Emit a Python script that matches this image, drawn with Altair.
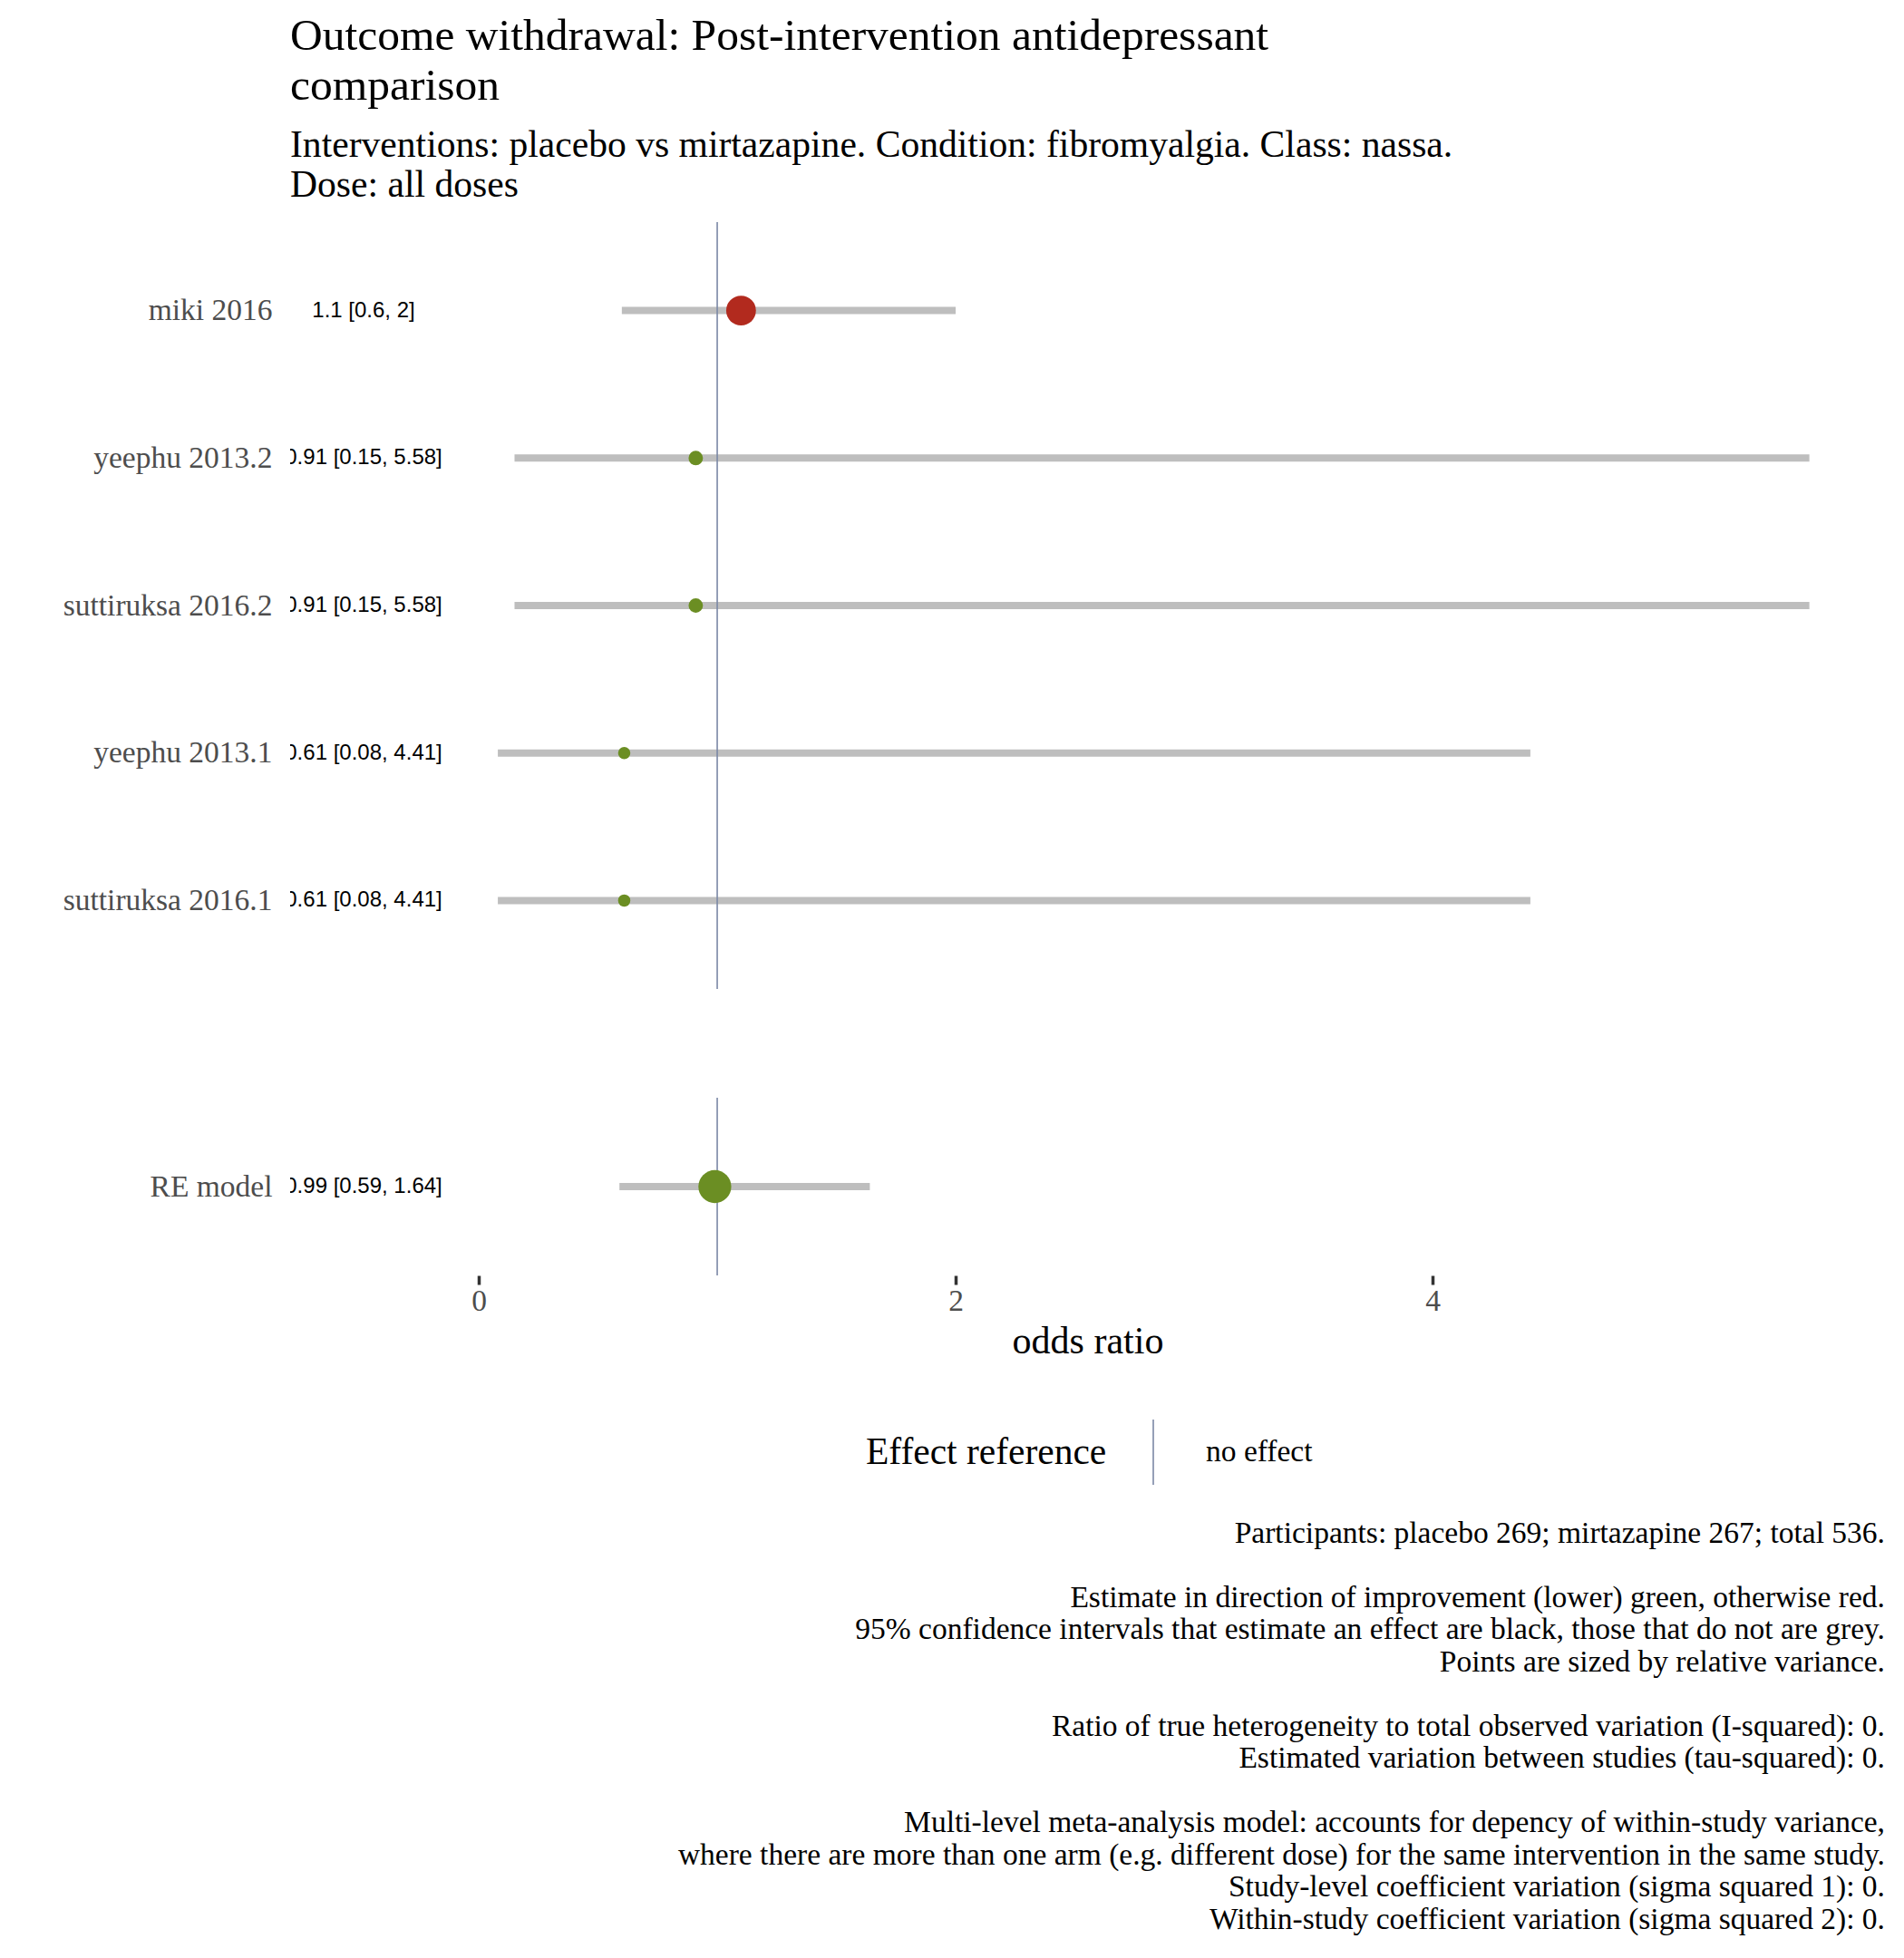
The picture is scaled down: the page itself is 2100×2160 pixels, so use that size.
import altair as alt
import pandas as pd

# ---------------- data ----------------
studies = ["miki 2016", "yeephu 2013.2", "suttiruksa 2016.2", "yeephu 2013.1", "suttiruksa 2016.1"]
estimates = [1.1, 0.91, 0.91, 0.61, 0.61]
lower = [0.6, 0.15, 0.15, 0.08, 0.08]
upper = [2.0, 5.58, 5.58, 4.41, 4.41]
rel_weight = [0.77, 0.18, 0.18, 0.13, 0.13]
effect_labels = ["1.1 [0.6, 2]", "0.91 [0.15, 5.58]", "0.91 [0.15, 5.58]",
                 "0.61 [0.08, 4.41]", "0.61 [0.08, 4.41]"]

model_name = ["RE model"]
model_estimate = [0.99]
model_lower = [0.59]
model_upper = [1.64]
model_weight = [0.94]
model_label = ["0.99 [0.59, 1.64]"]

ref_value = [1]
ref_label = ["no effect"]
x_ticks = [0, 2, 4]

title_lines = ["Outcome withdrawal: Post-intervention antidepressant", "comparison"]
subtitle_lines = ["Interventions: placebo vs mirtazapine. Condition: fibromyalgia. Class: nassa.",
                  "Dose: all doses"]
footnote_lines = [
    "Participants: placebo 269; mirtazapine 267; total 536.",
    "",
    "Estimate in direction of improvement (lower) green, otherwise red.",
    "95% confidence intervals that estimate an effect are black, those that do not are grey.",
    "Points are sized by relative variance.",
    "",
    "Ratio of true heterogeneity to total observed variation (I-squared): 0.",
    "Estimated variation between studies (tau-squared): 0.",
    "",
    "Multi-level meta-analysis model: accounts for depency of within-study variance,",
    "where there are more than one arm (e.g. different dose) for the same intervention in the same study.",
    "Study-level coefficient variation (sigma squared 1): 0.",
    "Within-study coefficient variation (sigma squared 2): 0.",
]

# ---------------- tables ----------------
def direction(vals):
    return ["worse" if v > ref_value[0] else "better" for v in vals]

study_df = pd.DataFrame({"study": studies, "estimate": estimates, "lower": lower,
                         "upper": upper, "weight": rel_weight, "label": effect_labels,
                         "direction": direction(estimates)})
model_df = pd.DataFrame({"study": model_name, "estimate": model_estimate, "lower": model_lower,
                         "upper": model_upper, "weight": model_weight, "label": model_label,
                         "direction": direction(model_estimate)})
ref_df = pd.DataFrame({"ref": ref_value, "ref_label": ref_label})
foot_df = pd.DataFrame({"row": list(range(len(footnote_lines))), "line": footnote_lines})

# ---------------- styles ----------------
SERIF = "Liberation Serif"
SANS = "Liberation Sans"
REF_COLOR = "#7B88A6"
CI_COLOR = "#BEBEBE"
PLOT_W = 1759
FOOT_STEP = 35.5
xscale = alt.Scale(domain=[-0.791, 5.897], nice=False, zero=False)
size_scale = alt.Scale(domain=[0, 1], range=[0, 1400])
color_scale = alt.Scale(domain=["better", "worse"], range=["#6B8E23", "#B22A1E"])

yaxis = alt.Axis(title=None, ticks=False, tickSize=0, domain=False, grid=False,
                 labelFont=SERIF, labelFontSize=33.5, labelColor="#4d4d4d", labelPadding=20,
                 labelLimit=1000)


def forest(df, order, height, pad, xaxis, with_legend):
    y = alt.Y("study:N", sort=order, scale=alt.Scale(type="point", padding=pad), axis=yaxis)
    base = alt.Chart(df)
    ci = base.mark_rule(strokeWidth=8, color=CI_COLOR).encode(
        x=alt.X("lower:Q", scale=xscale, axis=xaxis), x2="upper:Q", y=y)
    if with_legend:
        ref = alt.Chart(ref_df).mark_rule(strokeWidth=1.6).encode(
            x=alt.X("ref:Q", scale=xscale),
            stroke=alt.Stroke("ref_label:N", scale=alt.Scale(range=[REF_COLOR]),
                              legend=alt.Legend(
                                  title="Effect reference", orient="none",
                                  legendX=635, legendY=1320,
                                  direction="horizontal", titleOrient="left",
                                  titleFont=SERIF, titleFontSize=41.5, titleFontWeight="normal",
                                  titleColor="black", titlePadding=14, titleLimit=1000,
                                  labelFont=SERIF, labelFontSize=33.5, labelColor="black",
                                  labelOffset=21, labelLimit=1000, padding=0,
                                  symbolType="M0,-1L0,1", symbolSize=5184,
                                  symbolStrokeWidth=1.6)))
    else:
        ref = alt.Chart(ref_df).mark_rule(strokeWidth=1.6, color=REF_COLOR).encode(
            x=alt.X("ref:Q", scale=xscale))
    pts = base.mark_circle(opacity=1).encode(
        x=alt.X("estimate:Q", scale=xscale),
        y=y,
        size=alt.Size("weight:Q", scale=size_scale, legend=None),
        color=alt.Color("direction:N", scale=color_scale, legend=None))
    txt = base.mark_text(font=SANS, fontSize=24, align="center", baseline="middle",
                         color="black", clip=True).encode(
        x=alt.value(81), y=y, text="label:N")
    return alt.layer(ci, ref, pts, txt).properties(width=PLOT_W, height=height)


top = forest(study_df, studies, 846, 0.6, None, False).properties(
    title=alt.TitleParams(
        text=title_lines, subtitle=subtitle_lines, anchor="start", frame="group",
        font=SERIF, fontSize=49.5, fontWeight="normal", color="black", lineHeight=55,
        subtitleFont=SERIF, subtitleFontSize=41.6, subtitleColor="black",
        subtitleLineHeight=44, subtitlePadding=19, offset=18))

xaxis = alt.Axis(title="odds ratio", values=x_ticks, format="d", grid=False, domain=False,
                 ticks=True, tickSize=10, tickWidth=3.5, tickColor="#333333",
                 labelFont=SERIF, labelFontSize=33.5, labelColor="#4d4d4d", labelPadding=2,
                 titleFont=SERIF, titleFontSize=42, titleFontWeight="normal",
                 titleColor="black", titlePadding=8)

bottom = forest(model_df, model_name, 196, 0.5, xaxis, True)

foot = alt.Chart(foot_df).mark_text(
    font=SERIF, fontSize=33.5, align="right", baseline="middle", color="black"
).encode(
    x=alt.value(PLOT_W),
    y=alt.Y("row:O", axis=None, scale=alt.Scale(type="point", padding=0.5)),
    text="line:N",
).properties(width=PLOT_W, height=FOOT_STEP * len(footnote_lines))

inner = alt.vconcat(top, bottom, spacing=118).resolve_scale(y="independent")

chart = alt.vconcat(inner, foot, spacing=173).resolve_scale(y="independent").properties(
    padding={"left": 69, "top": 15, "right": 21, "bottom": 10},
    background="white",
).configure_view(stroke=None)

chart.save("out.html", embed_options={"renderer": "svg", "actions": False})
